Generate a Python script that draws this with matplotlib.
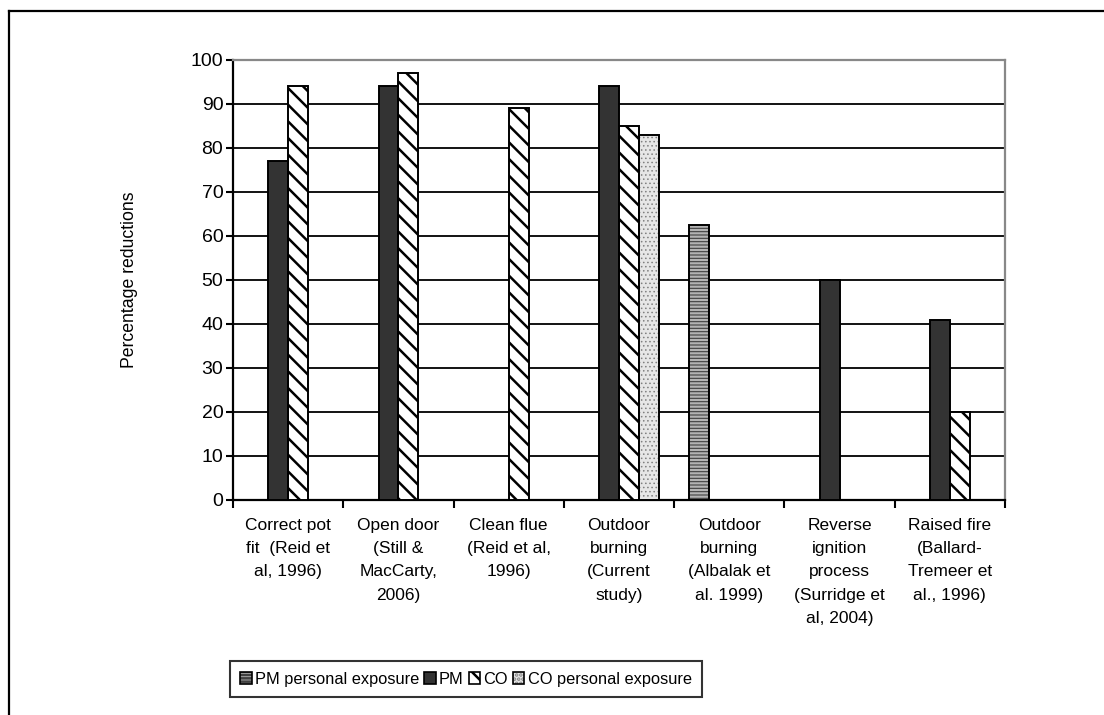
import numpy as np
import matplotlib.pyplot as plt
from matplotlib.lines import Line2D

plt.rcParams["font.family"] = ["Liberation Sans", "DejaVu Sans"]
plt.rcParams["font.size"] = 12.5
plt.rcParams["hatch.linewidth"] = 1.8

categories = [
    "Correct pot\nfit  (Reid et\nal, 1996)",
    "Open door\n(Still &\nMacCarty,\n2006)",
    "Clean flue\n(Reid et al,\n1996)",
    "Outdoor\nburning\n(Current\nstudy)",
    "Outdoor\nburning\n(Albalak et\nal. 1999)",
    "Reverse\nignition\nprocess\n(Surridge et\nal, 2004)",
    "Raised fire\n(Ballard-\nTremeer et\nal., 1996)",
]

series_names = ["PM personal exposure", "PM", "CO", "CO personal exposure"]
pm_personal = [None, None, None, None, 62.5, None, None]
pm = [77, 94, None, 94, None, 50, 41]
co = [94, 97, 89, 85, None, None, 20]
co_personal = [None, None, None, 83, None, None, None]

# face colour, hatch, hatch colour, hatch line width
styles = [
    ("#b4b4b4", "-----", "#404040", 0.8),
    ("#333333", None, "#333333", 1.0),
    ("white", "\\\\", "black", 1.8),
    ("#e6e6e6", "....", "#808080", 0.6),
]

fig = plt.figure(figsize=(11.04, 7.15), dpi=100)
ax = fig.add_axes([0.2111, 0.3007, 0.6992, 0.6154])

x = np.arange(len(categories))
width = 0.181
handles = []
for i, (name, values) in enumerate(zip(series_names, [pm_personal, pm, co, co_personal])):
    face, hatch, hcol, hlw = styles[i]
    idx = [j for j, v in enumerate(values) if v is not None]
    vals = [values[j] for j in idx]
    pos = x[idx] + (i - 1.5) * width
    fill = ax.bar(pos, vals, width, color=face, hatch=hatch, edgecolor=hcol,
                  linewidth=0, zorder=3)
    for p in fill:
        if hasattr(p, "set_hatch_linewidth"):
            p.set_hatch_linewidth(hlw)
    ax.bar(pos, vals, width, fill=False, edgecolor="black", linewidth=1.4, zorder=4)
    h = plt.Rectangle((0, 0), 1, 1, facecolor=face, hatch=hatch, edgecolor=hcol, linewidth=0)
    if hasattr(h, "set_hatch_linewidth"):
        h.set_hatch_linewidth(hlw)
    handles.append((h, plt.Rectangle((0, 0), 1, 1, fill=False, edgecolor="black", linewidth=1.2)))

ax.set_xlim(-0.5, len(categories) - 0.5)
ax.set_ylim(0, 100)
ax.set_yticks(np.arange(0, 101, 10))
ax.yaxis.grid(True, color="black", linewidth=1.3, zorder=0)
ax.set_axisbelow(True)

ax.set_xticks(np.arange(-0.5, len(categories), 1.0))
ax.set_xticklabels([])
ax.set_xticks(x, categories, minor=True)
ax.tick_params(axis="x", which="major", direction="out", length=6, width=1.5)
ax.tick_params(axis="x", which="minor", length=0, pad=13)
ax.tick_params(axis="y", direction="out", length=5, width=1.5, pad=2, labelsize=14)
for lab in ax.get_xticklabels(minor=True):
    lab.set_verticalalignment("top")
    lab.set_multialignment("center")
    lab.set_linespacing(1.68)

ax.spines["left"].set_linewidth(1.6)
ax.spines["bottom"].set_linewidth(1.6)
for s in ("top", "right"):
    ax.spines[s].set_color("#888888")
    ax.spines[s].set_linewidth(1.6)

ax.set_ylabel("Percentage reductions", fontsize=12.7, labelpad=38)

leg = fig.legend(handles, series_names, loc="center", bbox_to_anchor=(0.422, 0.05),
                 ncol=4, frameon=True, fancybox=False, edgecolor="black", fontsize=11.8,
                 handlelength=0.7, handleheight=0.7, handletextpad=0.2,
                 columnspacing=0.3, borderpad=0.65, borderaxespad=0)
leg.get_frame().set_linewidth(1.5)

# outer frame around the chart
fig.add_artist(Line2D([9 / 1104, 1.0], [1 - 11 / 715, 1 - 11 / 715],
                      transform=fig.transFigure, color="black", linewidth=1.6))
fig.add_artist(Line2D([9 / 1104, 9 / 1104], [0.0, 1 - 11 / 715],
                      transform=fig.transFigure, color="black", linewidth=1.6))

fig.savefig("out.png", dpi=100)
